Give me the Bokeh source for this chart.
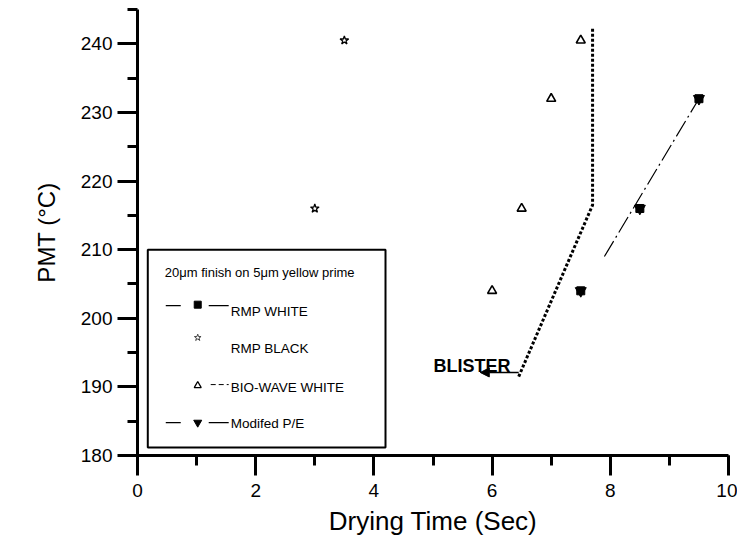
from bokeh.plotting import figure
from bokeh.models import (Range1d, SingleIntervalTicker, BoxAnnotation, Label,
                          Arrow, NormalHead)
from bokeh.embed import file_html
from bokeh.resources import INLINE

# ---------------- data ----------------
rmp_white_x = [7.5, 8.5, 9.5]
rmp_white_y = [204, 216, 232]

rmp_black_x = [3.0, 3.5]
rmp_black_y = [216, 240.5]

bio_wave_x = [6.0, 6.5, 7.0, 7.5]
bio_wave_y = [204, 216, 232, 240.5]

mod_pe_x = [7.5, 8.5, 9.5]
mod_pe_y = [204, 216, 232]

# trend line drawn through the Modified P/E points
mod_pe_line_x = [7.9, 9.5]
mod_pe_line_y = [209, 232]

# blister boundary
blister_x = [6.45, 7.7, 7.7]
blister_y = [191.5, 216.5, 242.5]
blister_arrow_x = [6.45, 5.8]
blister_arrow_y = 192.1

legend_title = "20\u03bcm finish on 5\u03bcm yellow prime"
series_names = ["RMP WHITE", "RMP BLACK", "BIO-WAVE WHITE", "Modifed P/E"]

FONT = "Liberation Sans"

p = figure(width=737, height=540, output_backend="svg", toolbar_location=None,
           x_range=Range1d(0, 10), y_range=Range1d(180, 245),
           min_border_left=137, min_border_right=9, min_border_top=9,
           min_border_bottom=85)
p.outline_line_color = None
p.xgrid.visible = False
p.ygrid.visible = False
p.background_fill_color = "white"
p.border_fill_color = "white"

p.xaxis.ticker = SingleIntervalTicker(interval=2, num_minor_ticks=2)
p.yaxis.ticker = SingleIntervalTicker(interval=10, num_minor_ticks=2)

for ax in (p.xaxis[0], p.yaxis[0]):
    ax.axis_line_width = 3
    ax.axis_line_color = "black"
    ax.major_tick_line_width = 3
    ax.minor_tick_line_width = 3
    ax.major_tick_line_color = "black"
    ax.minor_tick_line_color = "black"
    ax.major_tick_in = 0
    ax.major_tick_out = 20
    ax.minor_tick_in = 0
    ax.minor_tick_out = 10
    ax.major_label_text_font = FONT
    ax.major_label_text_font_size = "19px"
    ax.major_label_text_color = "black"
    ax.axis_label_text_font = FONT
    ax.axis_label_text_font_style = "normal"
    ax.axis_label_text_color = "black"

p.xaxis.axis_label = "Drying Time (Sec)"
p.yaxis.axis_label = "PMT (\u00b0C)"
p.xaxis.axis_label_text_font_size = "26px"
p.yaxis.axis_label_text_font_size = "24px"
p.xaxis.major_label_standoff = 8
p.xaxis.axis_label_standoff = 6
p.yaxis.major_label_standoff = 5
p.yaxis.axis_label_standoff = 18

# ---------------- data marks ----------------
p.line(mod_pe_line_x, mod_pe_line_y, line_color="black", line_width=1.2,
       line_dash="18 4 2 4")
p.scatter(rmp_black_x, rmp_black_y, marker="star", size=9,
          line_color="black", fill_color="white", line_width=1.3)
p.scatter(bio_wave_x, bio_wave_y, marker="triangle", size=9,
          line_color="black", fill_color="white", line_width=1.6)
p.scatter(rmp_white_x, rmp_white_y, marker="square", size=8,
          color="black")
p.scatter(mod_pe_x, mod_pe_y, marker="inverted_triangle", size=11,
          color="black")

# blister boundary
p.line(blister_x, blister_y, line_color="black", line_width=3, line_dash="3 2")
p.add_layout(Arrow(end=NormalHead(size=9, fill_color="black", line_color="black"),
                   x_start=blister_arrow_x[0], y_start=blister_arrow_y,
                   x_end=blister_arrow_x[1], y_end=blister_arrow_y,
                   line_color="black", line_width=1.6))
p.add_layout(Label(x=6.31, y=193.1, text="BLISTER", text_align="right",
                   text_baseline="alphabetic", text_font=FONT,
                   text_font_size="18px", text_font_style="bold",
                   text_color="black"))

# ---------------- legend (layout in page pixels, mapped to data units) ----------------
def dx(px):
    return (px - 136.7) / 59.17

def dy(py):
    return 180 + (455 - py) / 6.87

p.add_layout(BoxAnnotation(left=dx(147), right=dx(385), bottom=dy(447), top=dy(249),
                           fill_alpha=0, line_color="black", line_alpha=1,
                           line_width=2))
p.add_layout(Label(x=dx(164), y=dy(272), text=legend_title, text_baseline="middle",
                   text_font=FONT, text_font_size="13px", text_color="black"))

marker_rows = [304, 337, 385, 422]
text_rows = [311, 348, 387, 423]
for name, ty in zip(series_names, text_rows):
    p.add_layout(Label(x=dx(230), y=dy(ty), text=name, text_baseline="middle",
                       text_font=FONT, text_font_size="13.5px", text_color="black"))

# row 1: RMP WHITE
p.segment(x0=[dx(165), dx(208)], y0=[dy(305)] * 2, x1=[dx(180), dx(228)],
          y1=[dy(305)] * 2, line_color="black", line_width=1.2)
p.scatter([dx(197)], [dy(marker_rows[0])], marker="square", size=7, color="black")
# row 2: RMP BLACK
p.scatter([dx(197)], [dy(marker_rows[1])], marker="star", size=7,
          line_color="#444444", fill_color="white", line_width=1.0)
# row 3: BIO-WAVE WHITE
p.segment(x0=[dx(210)], y0=[dy(384)], x1=[dx(228)], y1=[dy(384)],
          line_color="black", line_width=1.0, line_dash="5 3")
p.scatter([dx(197)], [dy(marker_rows[2])], marker="triangle", size=7,
          line_color="black", fill_color="white", line_width=1.3)
# row 4: Modifed P/E
p.segment(x0=[dx(165), dx(208)], y0=[dy(422)] * 2, x1=[dx(180), dx(228)],
          y1=[dy(422)] * 2, line_color="black", line_width=1.2)
p.scatter([dx(197)], [dy(marker_rows[3])], marker="inverted_triangle", size=8,
          color="black")

open("out.html", "w").write(file_html(p, INLINE))
